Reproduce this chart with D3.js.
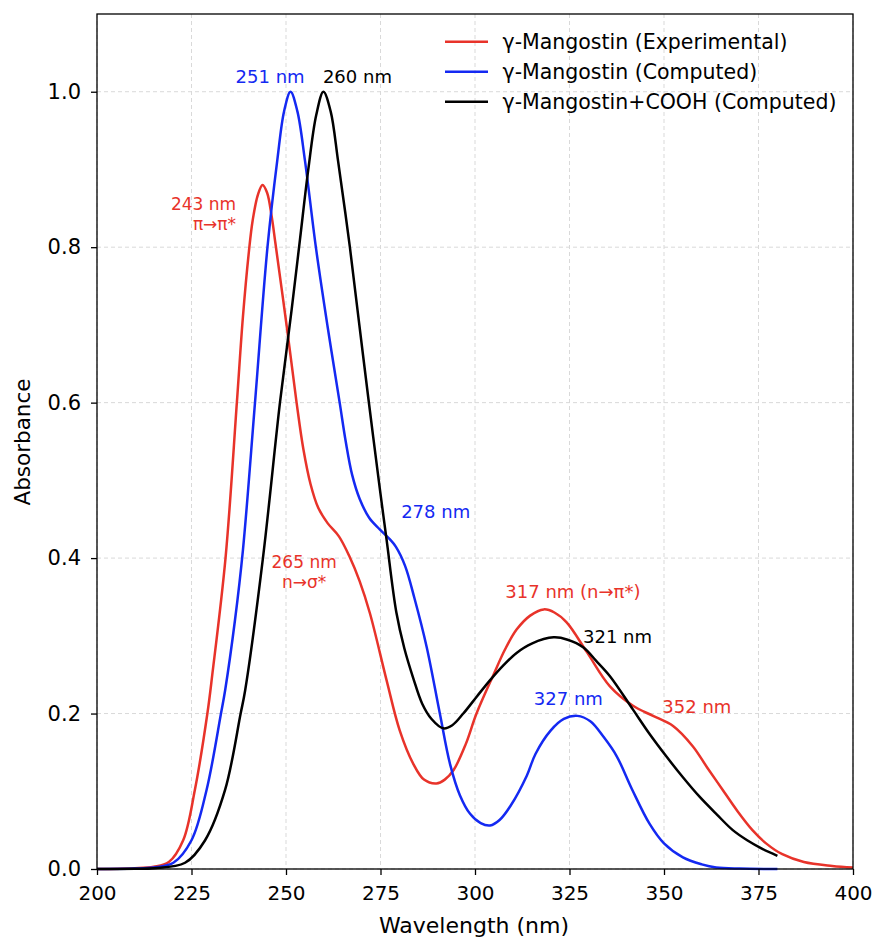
<!DOCTYPE html>
<html lang="en">
  <head>
    <meta charset="UTF-8" />
    <title>UV-Vis spectra</title>
    <script src="https://d3js.org/d3.v7.min.js"></script>
    <style>
      body { margin: 0; background: #fff; }
      svg { display: block; font-family: "DejaVu Sans", sans-serif; }
      .grid line { stroke: #d9d9d9; stroke-dasharray: 4,3; stroke-width: 1; }
      .curve { fill: none; stroke-width: 2.5px; stroke-linejoin: round; }
    </style>
  </head>
  <body>
    <div id="chart"></div>
    <script>
      // experimental spectrum
      var expWl = [200, 210, 215, 219, 222.8, 225.9, 229.2, 230.5, 234, 237, 238.6, 240.2, 241.2, 242.6, 243.8, 245, 246.2, 247.2, 250.2, 252.8, 254.6, 256.5, 258.5, 261, 264, 266.8, 269.5, 272.2, 276.6, 280.1, 283.7, 286.5, 289.8, 292, 294.3, 297.5, 300.4, 304.9, 308, 311, 314.6, 318.2, 321, 324.3, 329.6, 335.7, 341.8, 347.1, 352.4, 357.6, 361.5, 365.5, 369.5, 373.4, 377, 381.3, 387, 394.5, 400];
      var expAbs = [0, 0.001, 0.003, 0.009, 0.037, 0.102, 0.2, 0.25, 0.4, 0.6, 0.71, 0.795, 0.835, 0.868, 0.88, 0.87, 0.84, 0.805, 0.698, 0.6, 0.54, 0.495, 0.465, 0.445, 0.428, 0.402, 0.37, 0.329, 0.243, 0.178, 0.135, 0.115, 0.11, 0.115, 0.127, 0.16, 0.2, 0.25, 0.283, 0.308, 0.326, 0.334, 0.33, 0.317, 0.279, 0.235, 0.21, 0.197, 0.184, 0.158, 0.13, 0.102, 0.074, 0.05, 0.033, 0.019, 0.009, 0.004, 0.002];

      // computed, gamma-mangostin
      var compWl = [200, 210, 215, 220.2, 225, 229, 232.8, 233.9, 236.5, 238.6, 241.8, 245.1, 247.7, 249.5, 251.2, 253, 255, 257.9, 261, 264.2, 265.8, 267.5, 269.5, 272, 274.8, 277.5, 279, 281.5, 284, 287.2, 290.7, 293.4, 296, 298.7, 301.5, 304, 306.5, 309.5, 313.7, 316, 320, 323.5, 327.1, 330.5, 334, 337.5, 341.5, 346.2, 350, 355, 360, 363.8, 370, 380];
      var compAbs = [0, 0.0005, 0.002, 0.008, 0.037, 0.102, 0.2, 0.23, 0.32, 0.41, 0.6, 0.8, 0.912, 0.975, 1.0, 0.975, 0.912, 0.8, 0.698, 0.6, 0.55, 0.507, 0.476, 0.452, 0.437, 0.424, 0.415, 0.39, 0.348, 0.286, 0.2, 0.135, 0.095, 0.071, 0.059, 0.056, 0.063, 0.082, 0.12, 0.148, 0.178, 0.193, 0.197, 0.19, 0.17, 0.145, 0.103, 0.058, 0.033, 0.015, 0.006, 0.002, 0.0005, 0];

      // computed, gamma-mangostin + COOH
      var coohWl = [200, 210, 215, 223.3, 228.6, 233.9, 238, 239.2, 243.9, 248.4, 251.5, 253.7, 255.9, 258, 259.9, 261.8, 263.8, 266.9, 269.4, 271.8, 274.8, 276.6, 279.2, 281.3, 283.7, 286, 288.5, 291.6, 294, 296.9, 300.5, 304, 307.5, 311, 315, 320.8, 324.5, 328.7, 332, 335.7, 341.8, 346, 350.6, 355, 359.4, 364, 368.2, 372, 376, 380];
      var coohAbs = [0, 0.0003, 0.001, 0.008, 0.037, 0.102, 0.2, 0.23, 0.4, 0.6, 0.72, 0.81, 0.9, 0.97, 1.0, 0.975, 0.91, 0.8, 0.7, 0.605, 0.49, 0.424, 0.33, 0.284, 0.245, 0.213, 0.193, 0.181, 0.185, 0.2, 0.222, 0.243, 0.262, 0.278, 0.29, 0.298, 0.295, 0.285, 0.268, 0.248, 0.205, 0.175, 0.145, 0.118, 0.093, 0.07, 0.05, 0.037, 0.026, 0.017];

      var seriesNames = ["γ-Mangostin (Experimental)", "γ-Mangostin (Computed)", "γ-Mangostin+COOH (Computed)"];
      var seriesColors = ["#e8332a", "#1429f2", "#000000"];

      var xTicks = [200, 225, 250, 275, 300, 325, 350, 375, 400];
      var yTicks = [0, 0.2, 0.4, 0.6, 0.8, 1.0];

      // peak labels: text lines, series index, wavelength, absorbance, anchor
      var peakLabels = [
        { lines: ["251 nm"], s: 1, wl: 245.8, abs: 1.0116, anchor: "middle" },
        { lines: ["260 nm"], s: 2, wl: 268.9, abs: 1.0116, anchor: "middle" },
        { lines: ["243 nm", "π→π*"], s: 0, wl: 236.8, abs: 0.8476, anchor: "end" },
        { lines: ["265 nm", "n→σ*"], s: 0, wl: 254.8, abs: 0.387, anchor: "middle" },
        { lines: ["278 nm"], s: 1, wl: 289.6, abs: 0.4517, anchor: "middle" },
        { lines: ["317 nm (n→π*)"], s: 0, wl: 325.9, abs: 0.3488, anchor: "middle" },
        { lines: ["321 nm"], s: 2, wl: 337.7, abs: 0.2909, anchor: "middle" },
        { lines: ["327 nm"], s: 1, wl: 324.7, abs: 0.211, anchor: "middle" },
        { lines: ["352 nm"], s: 0, wl: 358.7, abs: 0.2008, anchor: "middle" }
      ];

      var W = 872, H = 937;
      var margin = { top: 14, right: 19, bottom: 68, left: 97 };
      var width = W - margin.left - margin.right,
        height = H - margin.top - margin.bottom;

      var svg = d3.select("#chart").append("svg")
        .attr("width", W).attr("height", H);
      var g = svg.append("g")
        .attr("transform", "translate(" + margin.left + "," + margin.top + ")");

      var x = d3.scaleLinear().domain([200, 400]).range([0, width]);
      var y = d3.scaleLinear().domain([0, 1.1]).range([height, 0]);

      // grid
      var grid = g.append("g").attr("class", "grid");
      grid.selectAll(".vx").data(xTicks).enter().append("line")
        .attr("x1", d => x(d)).attr("x2", d => x(d))
        .attr("y1", 0).attr("y2", height);
      grid.selectAll(".hy").data(yTicks).enter().append("line")
        .attr("x1", 0).attr("x2", width)
        .attr("y1", d => y(d)).attr("y2", d => y(d));

      // curves
      var line = d3.line()
        .x(d => x(d[0])).y(d => y(d[1]))
        .curve(d3.curveCatmullRom.alpha(0.5));
      var series = [
        d3.zip(expWl, expAbs),
        d3.zip(compWl, compAbs),
        d3.zip(coohWl, coohAbs)
      ];
      series.forEach(function (pts, i) {
        g.append("path").datum(pts)
          .attr("class", "curve")
          .attr("stroke", seriesColors[i])
          .attr("d", line);
      });

      // axes
      var xAxis = g.append("g")
        .attr("transform", "translate(0," + height + ")")
        .call(d3.axisBottom(x).tickValues(xTicks).tickSize(6).tickPadding(11).tickFormat(d3.format("d")));
      var yAxis = g.append("g")
        .call(d3.axisLeft(y).tickValues(yTicks).tickSize(6).tickPadding(10).tickFormat(d3.format(".1f")));
      [xAxis, yAxis].forEach(function (ax) {
        ax.select(".domain").remove();
        ax.selectAll("line").attr("stroke", "#000").attr("stroke-width", 1.3);
        ax.selectAll("text").attr("fill", "#000")
          .style("font-family", "DejaVu Sans").style("font-size", "21px");
      });
      xAxis.selectAll("text").style("font-size", "20px");

      // frame
      g.append("rect")
        .attr("width", width).attr("height", height)
        .attr("fill", "none").attr("stroke", "#000").attr("stroke-width", 1.3);

      // axis labels
      svg.append("text")
        .attr("x", margin.left + width / 2 - 1).attr("y", H - 4)
        .attr("text-anchor", "middle").style("font-size", "22px")
        .text("Wavelength (nm)");
      svg.append("text")
        .attr("transform", "translate(30," + 442 + ") rotate(-90)")
        .attr("text-anchor", "middle").style("font-size", "21.5px")
        .text("Absorbance");

      // peak labels
      peakLabels.forEach(function (p) {
        var t = g.append("text")
          .attr("x", x(p.wl)).attr("y", y(p.abs))
          .attr("text-anchor", p.anchor)
          .attr("fill", seriesColors[p.s])
          .style("font-size", p.lines.length > 1 ? "17px" : "18px");
        p.lines.forEach(function (l, k) {
          t.append("tspan").attr("x", x(p.wl)).attr("dy", k === 0 ? 0 : 20).text(l);
        });
      });

      // legend
      var legend = g.append("g").attr("transform", "translate(" + (445 - margin.left) + "," + (41.7 - margin.top) + ")");
      seriesNames.forEach(function (name, i) {
        var row = legend.append("g").attr("transform", "translate(0," + i * 30 + ")");
        row.append("line").attr("x1", 0).attr("x2", 43)
          .attr("stroke", seriesColors[i]).attr("stroke-width", 2.5);
        row.append("text").attr("x", 57.5).attr("dy", "0.35em")
          .style("font-size", "20.5px").text(name);
      });
    </script>
  </body>
</html>
